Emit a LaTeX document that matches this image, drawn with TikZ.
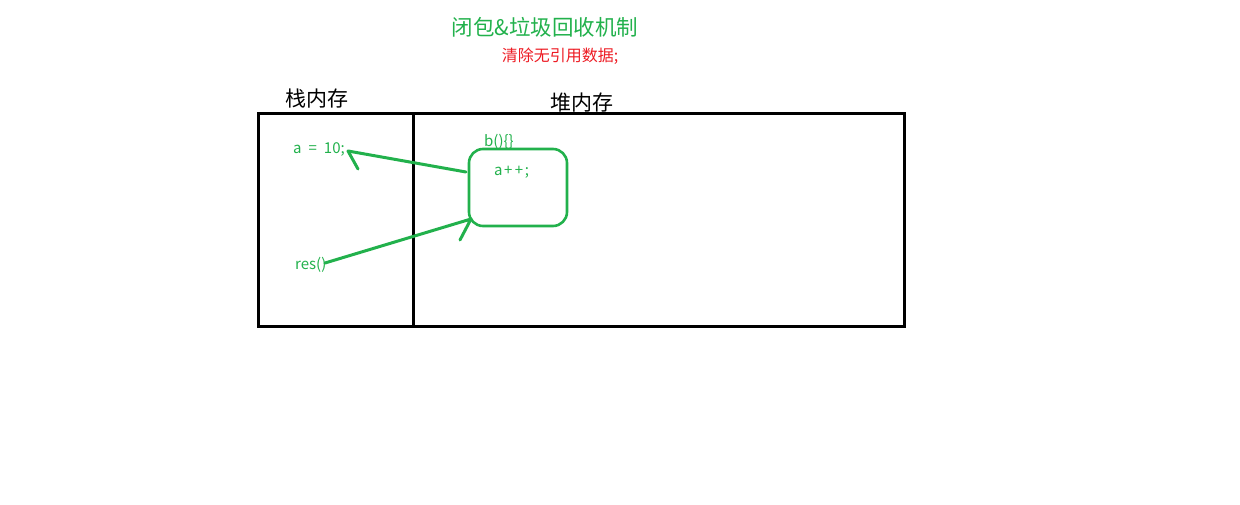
\documentclass[tikz,border=0pt]{standalone}
\usepackage{fontspec}
\setmainfont{Noto Sans CJK SC}
\definecolor{pgreen}{RGB}{34,177,76}
\definecolor{pred}{RGB}{237,28,36}
\begin{document}
\begin{tikzpicture}[x=1pt,y=-1pt,
  blk/.style={draw=black,line width=3pt},
  grn/.style={draw=pgreen,line width=3pt,line cap=round,line join=round},
  lbl/.style={text=pgreen,font=\fontsize{15}{17}\selectfont,inner sep=0pt},
  head/.style={text=black,font=\fontsize{21}{24}\selectfont,inner sep=0pt}]
\useasboundingbox (0,0) rectangle (1240,504);
\node[text=pgreen,font=\fontsize{21.5}{24}\selectfont,inner sep=0pt] (title) at (545,27) {闭包\&垃圾回收机制};
\node[text=pred,font=\fontsize{16}{18}\selectfont,inner sep=0pt] (sub) at (560,56) {清除无引用数据;};
\node[head] (stk) at (317,99) {栈内存};
\node[head] (heap) at (582,103) {堆内存};
\draw[blk] (258,113) rectangle (904,326);
\coordinate (dtop) at (413,113);
\coordinate (dbot) at (413,326);
\draw[blk] (dtop) -- (dbot);
\node[draw=pgreen,line width=2.6pt,rounded corners=14pt,minimum width=98pt,minimum height=77pt,inner sep=0pt] (fbox) at (518,187.5) {};
\node[lbl,anchor=west] (bfn) at (484,142) {b()\{\}};
\node[lbl,anchor=west] (app) at (494,172) {a\hspace{1.5pt}+\hspace{2.5pt}+\hspace{1.5pt};};
\node[lbl,anchor=west] (aval) at (293,149) {a\hspace{7pt}=\hspace{7pt}10;};
\node[lbl,anchor=west] (res) at (295,265) {res()};
\coordinate (h1) at (348,151);
\coordinate (b1) at (358,169);
\coordinate (s1) at (466,172);
\draw[grn] (s1) -- (h1) -- (b1);
\coordinate (s2) at (325,263);
\coordinate (h2) at (471,219);
\coordinate (b2) at (460,240);
\draw[grn] (s2) -- (h2) -- (b2);
\end{tikzpicture}
\end{document}
